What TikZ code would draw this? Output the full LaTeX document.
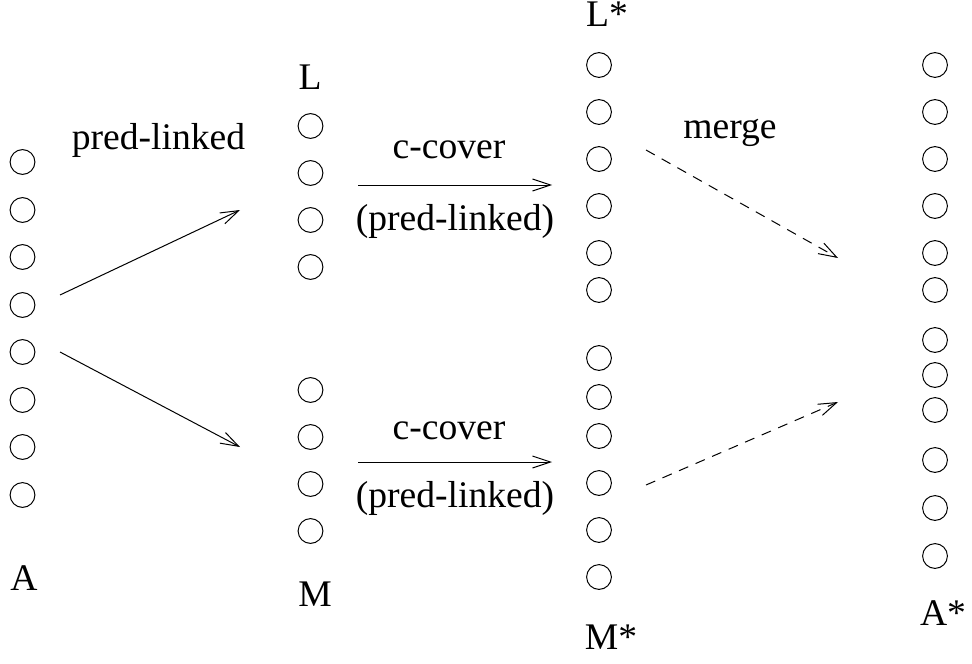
\documentclass[tikz,border=0pt]{standalone}
\usepackage{fontspec}
\setmainfont{Liberation Serif}
\usetikzlibrary{arrows.meta}
\begin{document}
\begin{tikzpicture}[x=0.5pt,y=-0.5pt,
  dot/.style={circle,draw,line width=0.5pt,minimum size=12.4pt,inner sep=0pt},
  lbl/.style={font=\fontsize{18.8}{22}\selectfont,inner sep=0pt,anchor=base},
  solidarrow/.style={line width=0.5pt,-{Straight Barb[length=9pt,width=6pt,line width=0.5pt]}},
  dasharrow/.style={solidarrow,dash pattern=on 5pt off 4pt}]
\useasboundingbox (0,0) rectangle (972,663);

% column A
\foreach \y [count=\i] in {162,210,257,305,352,400,447,495}
  \node[dot] (a\i) at (22.5,\y) {};
\node[lbl] (labA) at (24,590) {A};

% column L
\foreach \y [count=\i] in {126,173,220,267}
  \node[dot] (l\i) at (310.5,\y) {};
\node[lbl] (labL) at (310,90) {L};

% column M
\foreach \y [count=\i] in {390,437,484,531}
  \node[dot] (m\i) at (310.5,\y) {};
\node[lbl] (labM) at (315,606) {M};

% column L* / M*
\foreach \y [count=\i] in {65,112,159,206,253,290}
  \node[dot] (ls\i) at (599,\y) {};
\foreach \y [count=\i] in {358,397,436,483,530,577}
  \node[dot] (ms\i) at (599,\y) {};
\node[lbl] (labLs) at (607,27) {L*};
\node[lbl] (labMs) at (611,649) {M*};

% column A*
\foreach \y [count=\i] in {65,112,159,206,253,290,340,375,410,460,508,556}
  \node[dot] (as\i) at (935,\y) {};
\node[lbl] (labAs) at (943,625) {A*};

% arrow end points
\coordinate (p1) at (60,295);
\coordinate (q1) at (240,210);
\coordinate (p2) at (60,352);
\coordinate (q2) at (240,447);
\coordinate (c1s) at (358,185);
\coordinate (c1e) at (552,185);
\coordinate (c2s) at (358,462);
\coordinate (c2e) at (552,462);
\coordinate (d1s) at (646,150);
\coordinate (d1e) at (838,258);
\coordinate (d2s) at (646,485);
\coordinate (d2e) at (838,402);

\draw[solidarrow] (p1) -- (q1);
\draw[solidarrow] (p2) -- (q2);
\draw[solidarrow] (c1s) -- (c1e);
\draw[solidarrow] (c2s) -- (c2e);
\draw[dasharrow] (d1s) -- (d1e);
\draw[dasharrow] (d2s) -- (d2e);

\node[lbl] (t1) at (158.5,150) {pred-linked};
\node[lbl] (t2) at (449,159) {c-cover};
\node[lbl] (t3) at (455,230) {(pred-linked)};
\node[lbl] (t4) at (449,439) {c-cover};
\node[lbl] (t5) at (455,507) {(pred-linked)};
\node[lbl] (t6) at (730,139) {merge};
\end{tikzpicture}
\end{document}
